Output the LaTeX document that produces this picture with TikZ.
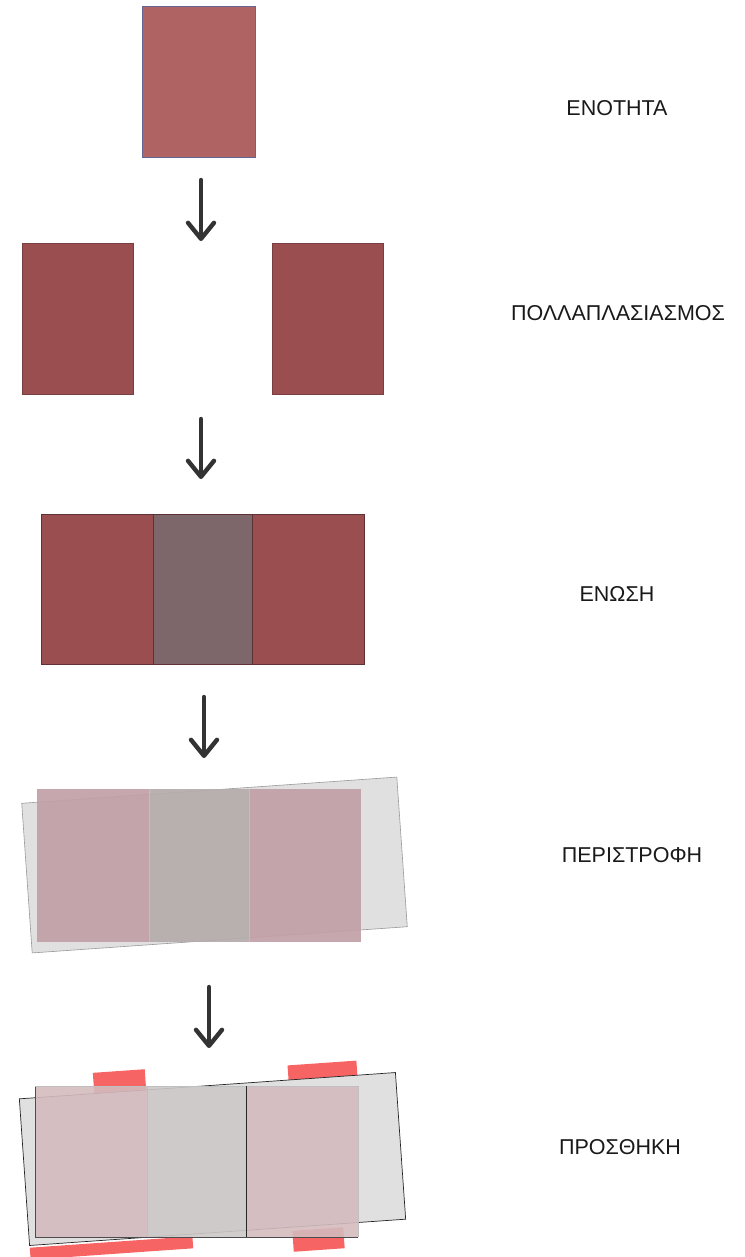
\documentclass[tikz,border=0pt]{standalone}
\usepackage{fontspec}
\setmainfont{Liberation Sans}
\usetikzlibrary{arrows.meta}
\definecolor{unitred}{HTML}{B06363}
\definecolor{maroon}{HTML}{9A4E50}
\definecolor{joint}{HTML}{7D676A}
\definecolor{seam}{HTML}{5E3234}
\definecolor{pinkA}{HTML}{C2A0A7}
\definecolor{pinkB}{HTML}{B5ACAC}
\definecolor{pinkC}{HTML}{D4BBBE}
\definecolor{pinkD}{HTML}{CDC8C8}
\definecolor{ghost}{HTML}{E1E0E1}
\definecolor{tab}{HTML}{F76464}
\begin{document}
\begin{tikzpicture}[x=1pt,y=-1pt,blk/.style={draw=seam,line width=.6pt,minimum height=150pt,inner sep=0pt,outer sep=0pt},lbl/.style={font=\fontsize{21.5}{23}\selectfont,text=black!90},a/.style={-{Straight Barb[length=16pt,width=26pt,line width=4.4pt,round]},line width=4.4pt,line cap=round,draw=black!80},rot/.style={rotate=4,inner sep=0pt,outer sep=0pt}]
\useasboundingbox (0,0) rectangle (744,1257);
% unit
\node[blk,fill=unitred,draw=black!70!blue!60,minimum width=113pt,minimum height=151pt] (unit) at (198.5,81.5) {};
\node[lbl] (t1) at (617,108) {ΕΝΟΤΗΤΑ};
\coordinate (a1s) at (201,180); \coordinate (a1e) at (201,241);
\draw[a] (a1s)--(a1e);
% multiplication
\node[blk,fill=maroon,draw=maroon!80!black,minimum width=111pt,minimum height=151pt] (m1) at (77.5,318.5) {};
\node[blk,fill=maroon,draw=maroon!80!black,minimum width=111pt,minimum height=151pt] (m2) at (327.5,318.5) {};
\node[lbl] (t2) at (618,313) {ΠΟΛΛΑΠΛΑΣΙΑΣΜΟΣ};
\coordinate (a2s) at (201,419); \coordinate (a2e) at (201,479);
\draw[a] (a2s)--(a2e);
% union
\node[blk,fill=maroon,minimum width=112pt] (u1) at (97,589) {};
\node[blk,fill=joint,minimum width=99pt] (u2) at (202.5,589) {};
\node[blk,fill=maroon,minimum width=112pt] (u3) at (308,589) {};
\node[lbl] (t3) at (617,594) {ΕΝΩΣΗ};
\coordinate (a3s) at (204,697); \coordinate (a3e) at (204,758);
\draw[a] (a3s)--(a3e);
% rotation
\node[rot,draw=black!40,line width=.6pt,fill=ghost,minimum width=376pt,minimum height=150pt] (r0) at (214.5,865) {};
\begin{scope}[fill opacity=.93]
\node[blk,draw=none,fill=pinkA,minimum width=112pt,minimum height=153pt] (r1) at (93,865.5) {};
\node[blk,draw=none,fill=pinkB,minimum width=100pt,minimum height=153pt] (r2) at (199,865.5) {};
\node[blk,draw=none,fill=pinkA,minimum width=112pt,minimum height=153pt] (r3) at (305,865.5) {};
\end{scope}
\draw[black!25,line width=.5pt] (r1.north east)--(r1.south east) (r2.north east)--(r2.south east);
\node[lbl] (t4) at (632,855) {ΠΕΡΙΣΤΡΟΦΗ};
\coordinate (a4s) at (209,987); \coordinate (a4e) at (209,1048);
\draw[a] (a4s)--(a4e);
% addition
\node[rot,fill=tab,minimum width=52pt,minimum height=21pt] (p1) at (119.5,1081.5) {};
\node[rot,fill=tab,minimum width=69pt,minimum height=16pt] (p2) at (322.5,1071) {};
\node[rot,fill=tab,minimum width=163pt,minimum height=12pt] (p3) at (111.5,1248) {};
\node[rot,fill=tab,minimum width=51pt,minimum height=21pt] (p4) at (318.5,1239.5) {};
\node[rot,draw=black!85,line width=.7pt,fill=ghost,minimum width=377pt,minimum height=147pt] (s0) at (212.5,1159) {};
\begin{scope}[fill opacity=.9]
\node[blk,draw=none,fill=pinkC,minimum width=112pt,minimum height=151pt] (s1) at (91,1161.5) {};
\node[blk,draw=none,fill=pinkD,minimum width=99pt,minimum height=151pt] (s2) at (196.5,1161.5) {};
\node[blk,draw=none,fill=pinkC,minimum width=112pt,minimum height=151pt] (s3) at (302,1161.5) {};
\end{scope}
\draw[black!70,line width=.6pt] (s1.north west)--(s1.south west)--(s3.south east);
\draw[black!25,line width=.5pt] (s1.north west)--(s3.north east)--(s3.south east) (s1.north east)--(s1.south east);
\draw[black!85,line width=.7pt] (s2.north east)--(s2.south east);
\node[lbl] (t5) at (620,1147) {ΠΡΟΣΘΗΚΗ};
\end{tikzpicture}
\end{document}
